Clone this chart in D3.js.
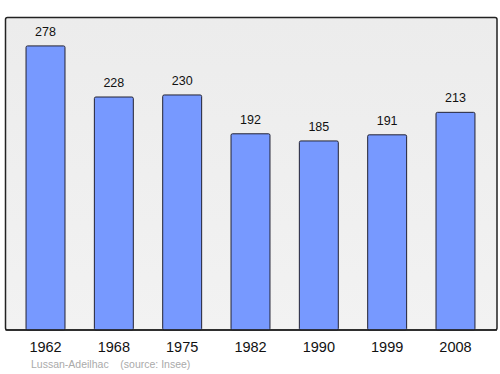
<!DOCTYPE html>
<html>
<head>
<meta charset="utf-8">
<script src="https://cdn.jsdelivr.net/npm/d3@7"></script>
<style>
  html, body { margin: 0; padding: 0; background: #fff; }
  svg { display: block; font-family: "Liberation Sans", Arial, sans-serif; }
</style>
</head>
<body>
<div id="chart"></div>
<script>
const years = ["1962", "1968", "1975", "1982", "1990", "1999", "2008"];
const population = [278, 228, 230, 192, 185, 191, 213];
const town = "Lussan-Adeilhac";
const source = "(source: Insee)";

const width = 500, height = 374;
const frame = { left: 5.5, top: 17.5, right: 497, bottom: 330 };

const svg = d3.select("#chart")
    .append("svg")
    .attr("width", width)
    .attr("height", height);

const defs = svg.append("defs");
const grad = defs.append("linearGradient")
    .attr("id", "bg")
    .attr("x1", 0).attr("y1", 0).attr("x2", 0).attr("y2", 1);
grad.append("stop").attr("offset", "0%").attr("stop-color", "#ececec");
grad.append("stop").attr("offset", "100%").attr("stop-color", "#f2f2f2");

svg.append("rect")
    .attr("x", frame.left)
    .attr("y", frame.top)
    .attr("width", frame.right - frame.left)
    .attr("height", frame.bottom - frame.top)
    .attr("rx", 2)
    .attr("fill", "url(#bg)")
    .attr("stroke", "#222")
    .attr("stroke-width", 1.5);

const x = d3.scaleBand()
    .domain(years)
    .range([11.35, 489.65])
    .paddingInner(0.43)
    .paddingOuter(0.215);

const y = d3.scaleLinear()
    .domain([0, d3.max(population) * 1.1])
    .range([frame.bottom, frame.top]);

const data = years.map((yr, i) => ({ year: yr, value: population[i] }));

svg.selectAll(".bar")
    .data(data)
    .enter()
    .append("rect")
    .attr("class", "bar")
    .attr("x", d => x(d.year))
    .attr("y", d => y(d.value))
    .attr("width", x.bandwidth())
    .attr("height", d => frame.bottom - y(d.value))
    .attr("rx", 1.5)
    .attr("fill", "#7799ff")
    .attr("stroke", "#223")
    .attr("stroke-width", 1);

svg.selectAll(".bar-label")
    .data(data)
    .enter()
    .append("text")
    .attr("class", "bar-label")
    .attr("x", d => x(d.year) + x.bandwidth() / 2)
    .attr("y", d => y(d.value) - 10)
    .attr("text-anchor", "middle")
    .style("font-size", "12.5px")
    .attr("fill", "#111")
    .text(d => d.value);

// redraw frame edge over bar bottoms
svg.append("line")
    .attr("x1", frame.left).attr("x2", frame.right)
    .attr("y1", frame.bottom).attr("y2", frame.bottom)
    .attr("stroke", "#222")
    .attr("stroke-width", 1.5);

const axis = svg.append("g")
    .attr("transform", `translate(0,${frame.bottom})`)
    .call(d3.axisBottom(x).tickSize(0).tickPadding(12));
axis.select(".domain").remove();
axis.selectAll("text")
    .attr("dy", "0.71em")
    .style("font-family", "\"Liberation Sans\", Arial, sans-serif")
    .style("font-size", "14.5px")
    .attr("fill", "#111");

svg.append("text")
    .attr("x", 31)
    .attr("y", 368)
    .style("font-size", "10.5px")
    .attr("fill", "#aaa")
    .attr("xml:space", "preserve")
    .text(town + "    " + source);
</script>
</body>
</html>
